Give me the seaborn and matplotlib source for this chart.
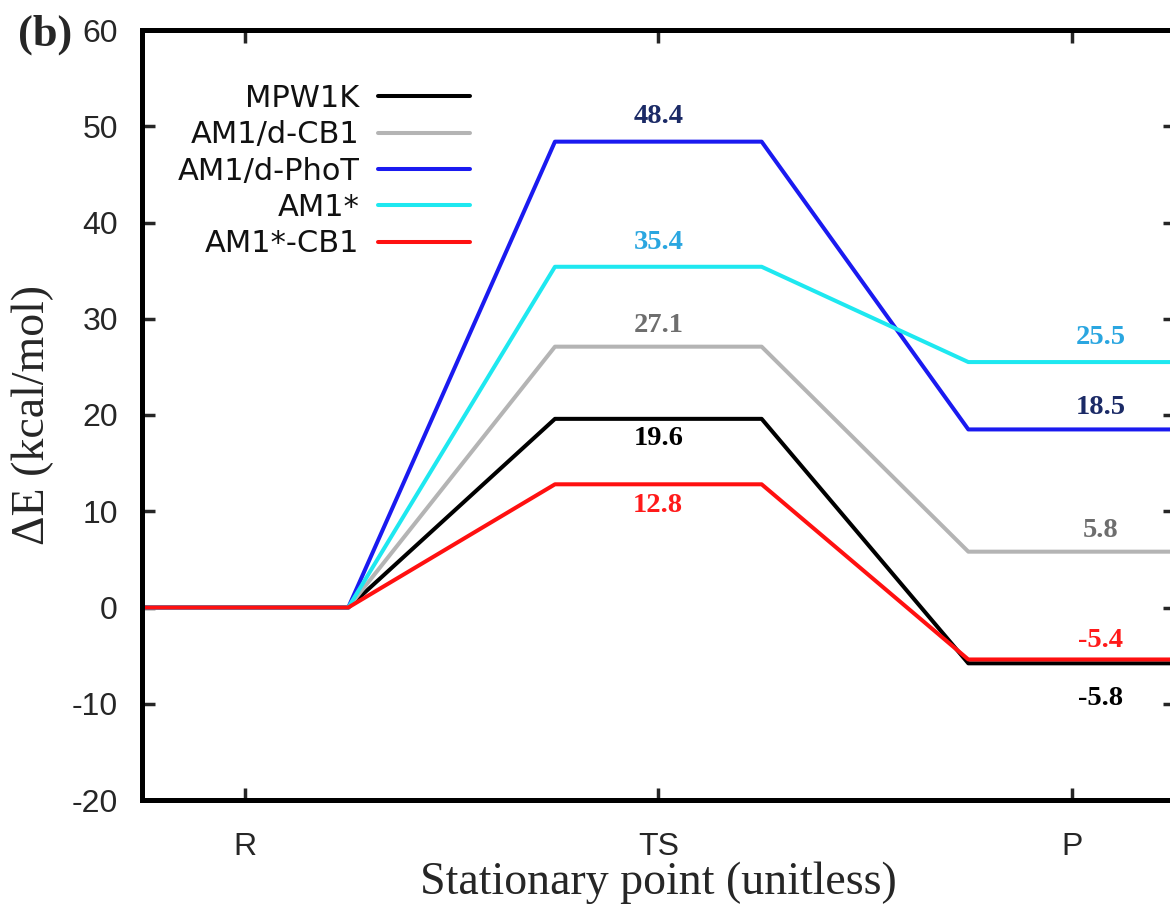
import matplotlib
matplotlib.use("Agg")
import matplotlib.pyplot as plt
import seaborn as sns
import pandas as pd
import numpy as np

# ---- data ----
points = ["R", "TS", "P"]
methods = ["MPW1K", "AM1/d-CB1", "AM1/d-PhoT", "AM1*", "AM1*-CB1"]
energy_R = [0.0, 0.0, 0.0, 0.0, 0.0]
energy_TS = [19.6, 27.1, 48.4, 35.4, 12.8]
energy_P = [-5.8, 5.8, 18.5, 25.5, -5.4]

# ---- styles ----
line_colors = ["#000000", "#b4b4b4", "#1a1af0", "#1ee8f0", "#ff1010"]
label_colors = ["#000000", "#6e6e6e", "#1b2a66", "#2aa6e0", "#ff1a1a"]
half_width = 0.25
# label offsets (in kcal/mol) for TS and P values
ts_offset = [-2.0, 2.2, 2.6, 2.5, -2.2]
p_offset = [-3.7, 2.2, 2.3, 2.6, 2.0]

sns.set_theme(style="ticks")
plt.rcParams["font.family"] = ["DejaVu Sans"]
plt.rcParams["axes.unicode_minus"] = False

rows = []
for i, m in enumerate(methods):
    vals = [energy_R[i], energy_TS[i], energy_P[i]]
    for k, v in enumerate(vals):
        for dx in (-half_width, half_width):
            rows.append({"x": k + dx, "E": v, "method": m})
df = pd.DataFrame(rows)

fig = plt.figure(figsize=(11.7, 9.17), dpi=100)
ax = fig.add_axes([141.6 / 1170, 1 - 800 / 917, (1175 - 141.6) / 1170, 770 / 917])

sns.lineplot(data=df, x="x", y="E", hue="method", hue_order=methods,
             palette=line_colors, sort=False, estimator=None,
             linewidth=2.9, ax=ax)

ax.set_xlim(-0.25, 2.25)
ax.set_ylim(-20, 60)
ax.set_xticks(range(len(points)))
ax.set_xticklabels(points)
ax.set_yticks(np.arange(-20, 61, 10))
ax.tick_params(direction="in", length=9, width=2.5, top=True, right=True,
               labelsize=23)
ax.tick_params(axis="y", pad=17)
ax.tick_params(axis="x", pad=23)
for lab in ax.get_xticklabels() + ax.get_yticklabels():
    lab.set_family("Liberation Sans")
for s in ax.spines.values():
    s.set_linewidth(3.6)
    s.set_color("black")

ax.set_xlabel("Stationary point (unitless)", family="Liberation Serif", fontsize=33, labelpad=0)
ax.set_ylabel("ΔE (kcal/mol)", family="Liberation Serif", fontsize=33, labelpad=13)

# value labels
for i, m in enumerate(methods):
    ax.text(1.0, energy_TS[i] + ts_offset[i], f"{energy_TS[i]:.1f}", ha="center", va="center",
            family="Liberation Serif", fontweight="bold", fontsize=20.5, color=label_colors[i])
    ax.text(2.07, energy_P[i] + p_offset[i], f"{energy_P[i]:.1f}", ha="center", va="center",
            family="Liberation Serif", fontweight="bold", fontsize=20.5, color=label_colors[i])

# legend
handles, labels = ax.get_legend_handles_labels()
leg = ax.legend(handles, labels, loc="upper right", bbox_to_anchor=(470 / 1170, 1 - 84 / 917),
                bbox_transform=fig.transFigure, frameon=False, markerfirst=False,
                fontsize=22, handlelength=3.0, handletextpad=0.62, labelspacing=0.24,
                borderpad=0, borderaxespad=0)
leg._legend_box.align = "right"
for t in leg.get_texts():
    t.set_color("#111111")

fig.text(18 / 1170, 1 - 35 / 917, "(b)", family="Liberation Serif", fontweight="bold",
         fontsize=32, va="center", ha="left")

fig.savefig("out.png", dpi=100)
